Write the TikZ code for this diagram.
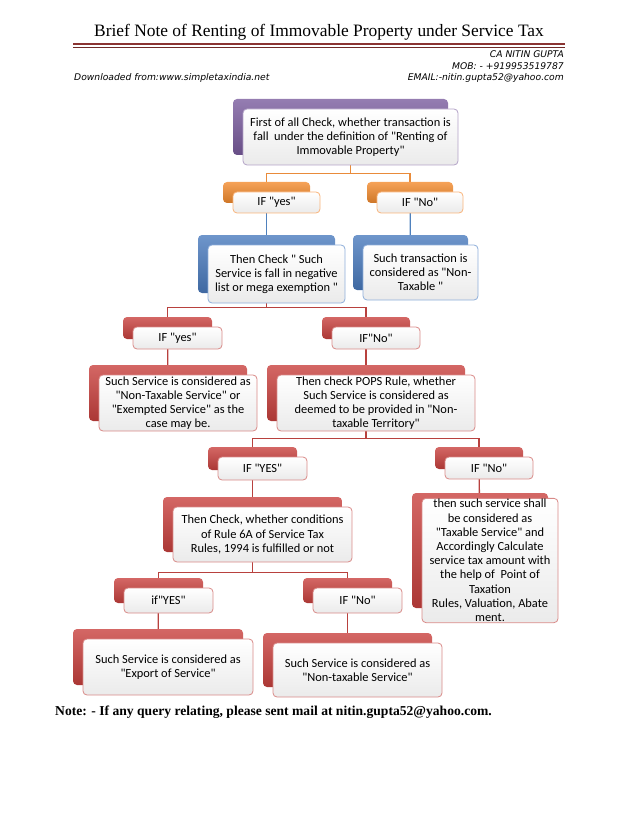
\documentclass[tikz,border=0pt]{standalone}
\usepackage{fontspec}
\setmainfont{Carlito}[Ligatures=TeXOff]
\newfontfamily\titlefont{Liberation Serif}
\newfontfamily\infofont{DejaVu Sans}
\usepackage{tikz}
\usetikzlibrary{calc}
\pgfdeclarelayer{background}
\pgfsetlayers{background,main}
\definecolor{purplebox}{HTML}{7A5C9E}
\definecolor{orangebox}{HTML}{F38B2E}
\definecolor{bluebox}{HTML}{4A7BBE}
\definecolor{redbox}{HTML}{C9413E}
\definecolor{purpleedge}{HTML}{B3A2C7}
\definecolor{orangeedge}{HTML}{F9B47A}
\definecolor{blueedge}{HTML}{8EAEDA}
\definecolor{rededge}{HTML}{D98A88}
\definecolor{orangeline}{HTML}{E98B3A}
\definecolor{blueline}{HTML}{4F81BD}
\definecolor{redline}{HTML}{B8413E}
\definecolor{rulered}{HTML}{8B3432}
\tikzset{
  cardback/.style={rounded corners=4pt, inner sep=0pt, top color=#1!80!white, bottom color=#1!85!black},
  cardfront/.style={rounded corners=4pt, draw=#1, line width=0.8pt, top color=white, bottom color=black!8,
    align=center, inner sep=1pt, font=\fontsize{12.4}{14.2}\selectfont},
  link/.style={draw=#1, line width=1.3pt},
  info/.style={font=\infofont\itshape\fontsize{9.2}{11}\selectfont, inner sep=0pt},
}
\newcommand{\flowcard}[8]{
  \node[cardback=#2, minimum width=#6pt, minimum height=#7pt, xshift=-10pt, yshift=10pt] (#1back) at (#4,#5) {};
  \node[cardfront=#3, minimum width=#6pt, minimum height=#7pt] (#1) at (#4,#5) {#8};
}

\begin{document}
\begin{tikzpicture}[x=1pt, y=-1pt]
\useasboundingbox (0,0) rectangle (638,826);

% heading
\node[font=\titlefont\fontsize{17.4}{20}\selectfont, inner sep=0pt] (title) at (319,32) {Brief Note of Renting of Immovable Property under Service Tax};
\draw[rulered, line width=2.6pt] (73,44) -- (565,44);
\draw[rulered!80!black, line width=0.7pt] (73,47.5) -- (565,47.5);
\node[info, anchor=east] (author) at (564,54) {CA NITIN GUPTA};
\node[info, anchor=east] (mobile) at (564,66) {MOB: - +919953519787};
\node[info, anchor=west] (source) at (74,78) {Downloaded from:www.simpletaxindia.net};
\node[info, anchor=east] (email) at (564,78) {EMAIL:-nitin.gupta52@yahoo.com};

\flowcard{top}{purplebox}{purpleedge}{350.5}{137}{215}{56}{\fontsize{12.4}{15.5}\selectfont First of all Check, whether transaction is\\fall\ \ under the definition of "Renting of\\Immovable Property"}
\flowcard{yesone}{orangebox}{orangeedge}{276.5}{202.5}{87}{21}{IF "yes"}
\flowcard{noone}{orangebox}{orangeedge}{420}{202.5}{86}{21}{IF "No"}
\flowcard{checkone}{bluebox}{blueedge}{276.5}{274}{137}{58}{Then Check " Such\\Service is fall in negative\\list or mega exemption "}
\flowcard{transaction}{bluebox}{blueedge}{420.5}{272.5}{115}{55}{Such transaction is\\considered as "Non-\\Taxable "}
\flowcard{yestwo}{redbox}{rededge}{177.5}{338}{89}{22}{IF "yes"}
\flowcard{notwo}{redbox}{rededge}{376}{338}{88}{22}{IF"No"}
\flowcard{exempt}{redbox}{rededge}{178}{403}{158}{56}{Such Service is considered as\\"Non-Taxable Service" or\\"Exempted Service" as the\\case may be.}
\flowcard{pops}{redbox}{rededge}{376}{403}{198}{56}{Then check POPS Rule, whether\\Such Service is considered as\\deemed to be provided in "Non-\\taxable Territory"}
\flowcard{yesthree}{redbox}{rededge}{262.5}{468.5}{89}{23}{IF "YES"}
\flowcard{nothree}{redbox}{rededge}{489}{468}{88}{22}{IF "No"}
\flowcard{rulesix}{redbox}{rededge}{262.5}{534.5}{179}{55}{Then Check, whether conditions\\of Rule 6A of Service Tax\\Rules, 1994 is fulfilled or not}
\flowcard{taxable}{redbox}{rededge}{490}{560.5}{136}{115}{\fontsize{12.4}{13.6}\selectfont then such service shall\\be considered as\\"Taxable Service" and\\Accordingly Calculate\\service tax amount with\\the help of\ \ Point of\\Taxation\\Rules, Valuation, Abate\\ment.}
\flowcard{yesfour}{redbox}{rededge}{168.5}{600.5}{89}{25}{if"YES"}
\flowcard{nofour}{redbox}{rededge}{357.5}{600.5}{89}{25}{IF "No"}
\flowcard{export}{redbox}{rededge}{168}{667}{170}{56}{Such Service is considered as\\"Export of Service"}
\flowcard{nontaxable}{redbox}{rededge}{357.5}{670}{169}{54}{Such Service is considered as\\"Non-taxable Service"}

\begin{pgfonlayer}{background}
\draw[link=orangeline] (top.south) -- ++(0,8) -| (yesoneback.north);
\draw[link=orangeline] (top.south) -- ++(0,8) -| (nooneback.north);
\draw[link=blueline] (yesoneback) -- (checkoneback);
\draw[link=blueline] (nooneback) -- (transactionback);
\draw[link=redline] (checkoneback.south) -- ++(0,14) -| (yestwoback.north);
\draw[link=redline] (checkoneback.south) -- ++(0,14) -| (notwoback.north);
\draw[link=redline] (yestwoback) -- (exemptback);
\draw[link=redline] (notwoback) -- (popsback);
\draw[link=redline] (popsback.south) -- ++(0,17) -| (yesthreeback.north);
\draw[link=redline] (popsback.south) -- ++(0,17) -| (nothreeback.north);
\draw[link=redline] (yesthreeback) -- (rulesixback);
\draw[link=redline] (nothreeback) -- (taxableback);
\draw[link=redline] (rulesixback.south) -- ++(0,20) -| (yesfourback.north);
\draw[link=redline] (rulesixback.south) -- ++(0,20) -| (nofourback.north);
\draw[link=redline] (yesfourback) -- (exportback);
\draw[link=redline] (nofourback) -- (nontaxableback);
\end{pgfonlayer}

\node[font=\titlefont\bfseries\fontsize{13.6}{15}\selectfont, anchor=west, inner sep=0pt] (note) at (55,712) {Note: - If any query relating, please sent mail at nitin.gupta52@yahoo.com.};
\end{tikzpicture}
\end{document}
